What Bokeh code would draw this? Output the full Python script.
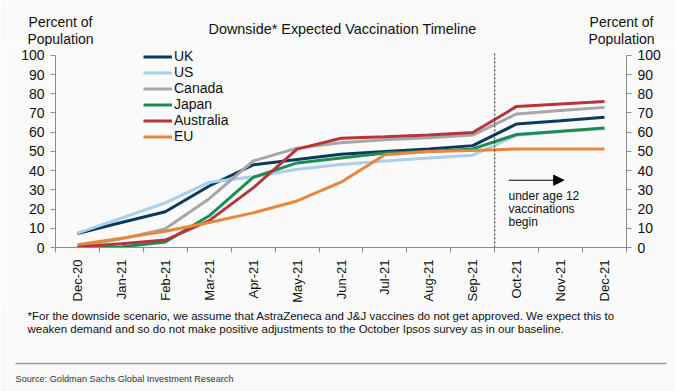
import math
from bokeh.plotting import figure
from bokeh.models import (Range1d, FixedTicker, LinearAxis, Arrow, NormalHead,
                          Label, Legend)
from bokeh.embed import file_html
from bokeh.resources import INLINE
from bokeh.core.properties import value

months = ["Dec-20", "Jan-21", "Feb-21", "Mar-21", "Apr-21", "May-21", "Jun-21",
          "Jul-21", "Aug-21", "Sep-21", "Oct-21", "Nov-21", "Dec-21"]

uk = [7.3, 13.0, 18.6, 32.0, 43.0, 45.8, 48.5, 50.0, 51.3, 53.0, 64.3, 66.0, 67.8]
us = [7.5, 15.3, 23.2, 34.0, 36.8, 40.7, 43.2, 45.0, 46.5, 48.0, 58.4, 60.2, 61.9]
canada = [0.5, 4.5, 9.7, 25.4, 45.0, 51.7, 54.5, 56.0, 57.1, 58.5, 69.5, 71.3, 72.9]
japan = [0.0, 0.3, 2.9, 16.5, 36.5, 44.0, 46.6, 49.2, 50.0, 51.3, 58.8, 60.5, 62.2]
australia = [0.3, 2.0, 3.9, 14.0, 31.0, 51.2, 56.8, 57.6, 58.5, 59.8, 73.4, 74.7, 76.0]
eu = [1.5, 4.8, 8.5, 13.0, 18.0, 24.2, 34.0, 48.3, 50.0, 50.5, 51.3, 51.3, 51.3]

series_names = ["UK", "US", "Canada", "Japan", "Australia", "EU"]
series_values = [uk, us, canada, japan, australia, eu]
series_colors = ["#0b3a5e", "#a9cfea", "#a6a6a6", "#1e8c52", "#b5353a", "#e8873c"]

y_ticks = list(range(0, 101, 10))
divider_at = 9.5            # between Sep-21 and Oct-21
arrow_from, arrow_to, arrow_level = 9.82, 11.07, 35

title_text = "Downside* Expected Vaccination Timeline"
axis_title_lines = ["Percent of", "Population"]
note_lines = ["under age 12", "vaccinations", "begin"]
footnote_lines = [
    "*For the downside scenario, we assume that AstraZeneca and J&J vaccines do not get approved. We expect this to",
    "weaken demand and so do not make positive adjustments to the October Ipsos survey as in our baseline.",
]
source_text = "Source: Goldman Sachs Global Investment Research"

FONT = "Liberation Sans"
BG = "#fafafa"
AX = "#8c8c8c"
TXT = "#111111"
W = 675


def blank(height):
    f = figure(width=W, height=height, output_backend="svg", toolbar_location=None,
               x_range=Range1d(0, W), y_range=Range1d(height, 0),
               x_axis_location=None, y_axis_location=None,
               min_border_left=0, min_border_right=0, min_border_top=0,
               min_border_bottom=0)
    f.grid.visible = False
    f.outline_line_color = None
    f.background_fill_color = BG
    f.border_fill_color = BG
    return f


# ---------------- header (title + axis titles) ----------------
hdr = blank(46)
hdr.text(x=[342], y=[28], text=[title_text], text_font=value(FONT),
         text_font_size="14.4px", text_align="center", text_baseline="middle",
         text_color=TXT)
hx, hy, ht = [], [], []
for cx in (60, 621):
    for t, cy in zip(axis_title_lines, (21, 38)):
        hx.append(cx); hy.append(cy); ht.append(t)
hdr.text(x=hx, y=hy, text=ht, text_font=value(FONT), text_font_size="14px",
         text_align="center", text_baseline="middle", text_color=TXT)

# ---------------- main chart ----------------
x = list(range(len(months)))
p = figure(width=W, height=259, output_backend="svg", toolbar_location=None,
           x_range=Range1d(-0.5, 12.5), y_range=Range1d(0, 104.57),
           min_border_left=55, min_border_right=49, min_border_top=0,
           min_border_bottom=53)
p.background_fill_color = BG
p.border_fill_color = BG
p.outline_line_color = None
p.grid.visible = False

xa = p.xaxis[0]
xa.ticker = FixedTicker(ticks=x, minor_ticks=[i - 0.5 for i in range(len(months) + 1)])
xa.major_label_overrides = {i: m for i, m in enumerate(months)}
xa.major_label_orientation = math.pi / 2
xa.major_tick_line_color = None
xa.major_tick_out = 0
xa.major_tick_in = 0
xa.minor_tick_out = 5
xa.minor_tick_in = 0
xa.minor_tick_line_color = AX
xa.axis_line_color = AX
xa.major_label_standoff = 7
xa.major_label_text_font = FONT
xa.major_label_text_font_size = "13px"
xa.major_label_text_color = TXT

ya = p.yaxis[0]
ra = LinearAxis()
p.add_layout(ra, "right")
for a in (ya, ra):
    a.ticker = FixedTicker(ticks=y_ticks, minor_ticks=[])
    a.bounds = (0, 100)
    a.major_tick_out = 5
    a.major_tick_in = 0
    a.major_tick_line_color = AX
    a.axis_line_color = AX
    a.major_label_standoff = 6
    a.major_label_text_font = FONT
    a.major_label_text_font_size = "14px"
    a.major_label_text_color = TXT

legend_items = []
for name, vals, col in zip(series_names, series_values, series_colors):
    r = p.line(x, vals, line_color=col, line_width=3)
    legend_items.append((name, [r]))

legend = Legend(items=legend_items, location=(88, 103))
legend.background_fill_alpha = 0
legend.border_line_color = None
legend.padding = 0
legend.margin = 0
legend.spacing = 0
legend.glyph_width = 29
legend.glyph_height = 15
legend.label_height = 15
legend.label_standoff = 2
legend.label_text_font = FONT
legend.label_text_font_size = "14px"
legend.label_text_line_height = 1.0
legend.label_text_color = TXT
p.add_layout(legend, "center")

# dashed divider between Sep-21 and Oct-21
p.segment(x0=[divider_at], y0=[0], x1=[divider_at], y1=[101.5],
          line_color="#222222", line_width=1, line_dash="2 2")

p.add_layout(Arrow(end=NormalHead(size=10, fill_color="black", line_color="black"),
                   x_start=arrow_from, y_start=arrow_level, x_end=arrow_to,
                   y_end=arrow_level, line_color="black", line_width=1))

note_y = [26.9, 19.9, 13.2]
for t, yy in zip(note_lines, note_y):
    p.add_layout(Label(x=9.814, y=yy, text=t, text_font=FONT, text_font_size="12px",
                       text_baseline="middle", text_align="left", text_color=TXT))

# ---------------- footer ----------------
f = blank(86)
f.text(x=[27, 27], y=[10, 23], text=footnote_lines, text_font=value(FONT),
       text_font_size="11.5px", text_baseline="middle", text_align="left",
       text_color=TXT)
f.segment(x0=[15], y0=[58], x1=[666], y1=[58], line_color="#9a9a9a", line_width=1.5)
f.text(x=[15], y=[73], text=[source_text], text_font=value(FONT),
       text_font_size="9.2px", text_baseline="middle", text_align="left",
       text_color="#333333")

# separate roots, stacked by the page itself (no frame alignment between them)
open("out.html", "w").write(file_html([hdr, p, f], INLINE))
